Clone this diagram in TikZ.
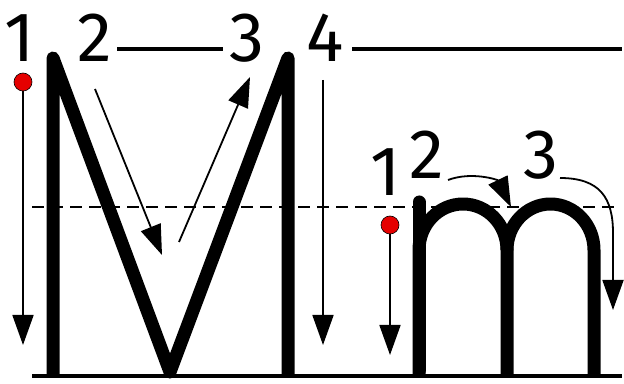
\documentclass[tikz,border=0pt]{standalone}
\usepackage{fontspec}
\setmainfont{Fira Sans}
\usepackage{tikz}
\usetikzlibrary{arrows.meta, positioning, calc}

\begin{document}
\begin{tikzpicture}[x=1pt, y=1pt,
  num/.style={inner sep=0pt, font=\fontsize{70}{70}\selectfont},
  letter/.style={line width=13pt, line join=round},
  guide/.style={line width=4pt},
  stroke/.style={line width=1.8pt, -{Triangle[length=30pt, width=21pt]}},
  startdot/.style={circle, draw, line width=0.6pt, fill=red!90!black,
                   minimum size=18pt, inner sep=0pt}
]
  \useasboundingbox (0,0) rectangle (624,383);
  % Base line and mid line
  \def\baseY{7}
  \def\midY{176}
  \draw[guide] (32,\baseY) -- (622,\baseY);
  \draw[line width=1.6pt, dash pattern=on 12pt off 7pt] (32,\midY) -- (615,\midY);

  % Capital M
  \node[num] (n1) at (20,345) {1};
  \node[num] (n2) at (95,345) {2};
  \node[num] (n3) at (247,345) {3};
  \node[num] (n4) at (325,345) {4};
  \draw[guide] (117,334) -- (223,334);
  \draw[guide] (352,334) -- (622,334);
  \draw[letter] (53,\baseY) -- (53,325) -- (170,11) -- (288,325) -- (288,\baseY);
  \node[startdot] (d1) at (23,301) {};
  \coordinate (e1) at (23,38);
  \draw[stroke] (d1) -- (e1);
  \coordinate (s2) at (95,294);
  \coordinate (e2) at (162,128);
  \draw[stroke] (s2) -- (e2);
  \coordinate (s3) at (179,141);
  \coordinate (e3) at (250,306);
  \draw[stroke] (s3) -- (e3);
  \coordinate (s4) at (323,303);
  \coordinate (e4) at (323,38);
  \draw[stroke] (s4) -- (e4);

  % Small m
  \node[num] (m1) at (386,211) {1};
  \node[num] (m2) at (427,228) {2};
  \node[num] (m3) at (541,228) {3};
  \draw[letter, line cap=round] (419,181) -- (419,\baseY+6);
  \draw[letter] (419,\baseY) -- (419,133)
    arc[start angle=180, end angle=0, x radius=44, y radius=46] -- (507,\baseY);
  \draw[letter] (507,133)
    arc[start angle=180, end angle=0, x radius=43.5, y radius=46] -- (594,\baseY);
  \node[startdot] (d2) at (390,158) {};
  \coordinate (f1) at (390,28);
  \draw[stroke] (d2) -- (f1);
  \coordinate (t2) at (448,203);
  \coordinate (f2) at (511,176);
  \draw[stroke] (t2) .. controls (472,212) and (498,203) .. (f2);
  \coordinate (t3) at (560,205);
  \coordinate (f3) at (613,73);
  \draw[stroke] (t3) .. controls (600,205) and (613,185) .. (613,150) -- (f3);
\end{tikzpicture}
\end{document}
